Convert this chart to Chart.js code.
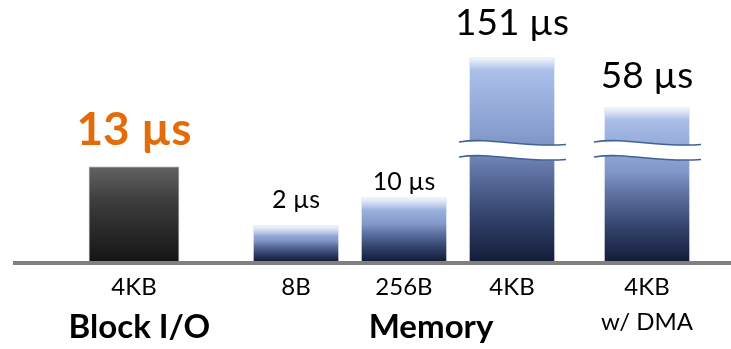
<!DOCTYPE html>
<html>
<head>
<meta charset="utf-8">
<script src="https://cdn.jsdelivr.net/npm/chart.js@4.4.1/dist/chart.umd.min.js"></script>
<style>
  html, body { margin: 0; padding: 0; background: #fff; }
  canvas { display: block; }
</style>
</head>
<body>
<canvas id="c" width="731" height="349"></canvas>
<script>
// Access latency by transfer size, in microseconds
const categories = ['4KB', '8B', '256B', '4KB', '4KB'];
const categoryNotes = ['', '', '', '', 'w/ DMA'];
const groups = ['Block I/O', 'Memory', 'Memory', 'Memory', 'Memory'];
const latencyUs = [13, 2, 10, 151, 58];
const unit = 'µs';

// Layout: bars sit on a 20-slot category axis
const SLOTS = 20;
const barSlot = [0, 6, 10, 14, 19];
const groupLabelSlot = { 'Block I/O': 0.2, 'Memory': 11 };

// Value label styling
const labelSize = [46, 25, 25, 37, 37];
const labelBold = [true, false, false, false, false];
const labelColor = ['#E36C0A', '#000', '#000', '#000', '#000'];
const labelLift = [22, 18, 8, 23, 20];

// Memory axis: compressed power scale below the break, log scale above it
const MEM_AXIS = { breakAt: 35, lowK: 27.2, lowExp: 0.365, gap: 27, decadePx: 120.3 };

class BrokenScale extends Chart.LinearScale {
  static id = 'broken';
  _h(v) {
    const o = MEM_AXIS;
    if (!(v > 0)) return 0;
    const low = o.lowK * Math.pow(Math.min(v, o.breakAt), o.lowExp);
    if (v <= o.breakAt) return low;
    return low + o.gap + o.decadePx * Math.log10(v / o.breakAt);
  }
  getPixelForValue(v) { return this.bottom - this._h(v); }
  getValueForPixel(p) {
    const o = MEM_AXIS;
    const h = this.bottom - p;
    const hb = o.lowK * Math.pow(o.breakAt, o.lowExp);
    if (h <= hb) return Math.pow(Math.max(h, 0) / o.lowK, 1 / o.lowExp);
    if (h <= hb + o.gap) return o.breakAt;
    return o.breakAt * Math.pow(10, (h - hb - o.gap) / o.decadePx);
  }
}
Chart.register(BrokenScale);

// Category labels per slot
const slotLabels = Array.from({ length: SLOTS }, (_, s) => {
  const i = barSlot.indexOf(s);
  if (i < 0) return '';
  return categoryNotes[i] ? [categories[i], categoryNotes[i]] : categories[i];
});

function seriesFor(group) {
  const arr = Array(SLOTS).fill(null);
  latencyUs.forEach((v, i) => { if (groups[i] === group) arr[barSlot[i]] = v; });
  return arr;
}

const BLOCK_STOPS = [[0, '#626262'], [0.35, '#3e3e3e'], [1, '#151515']];
const MEM_STOPS = [[0, '#b3c6ec'], [0.1, '#a6bbe6'], [0.42, '#8197c8'], [0.55, '#6174a4'], [0.78, '#33436d'], [1, '#141d38']];

function gradientFill(stops) {
  return (ctx) => {
    const chart = ctx.chart;
    if (!chart.chartArea || ctx.raw == null) return 'rgba(0,0,0,0)';
    const ys = chart.scales[ctx.dataset.yAxisID];
    const top = ys.getPixelForValue(ctx.raw);
    const base = ys.getBasePixel();
    const g = chart.ctx.createLinearGradient(0, top, 0, base);
    stops.forEach(([o, c]) => g.addColorStop(o, c));
    return g;
  };
}

const FONT = 'Lato, "Open Sans", sans-serif';

const decor = {
  id: 'decor',
  afterDatasetsDraw(chart) {
    const c = chart.ctx;
    const area = chart.chartArea;
    const memMeta = chart.getDatasetMeta(1);
    const memScale = chart.scales.yMem;

    // soft highlight along the top of each memory bar
    memMeta.data.forEach((bar, s) => {
      if (chart.data.datasets[1].data[s] == null) return;
      const h = bar.base - bar.y;
      const d = Math.min(12, h * 0.3);
      const g = c.createLinearGradient(0, bar.y, 0, bar.y + d);
      g.addColorStop(0, 'rgba(255,255,255,0.8)');
      g.addColorStop(1, 'rgba(255,255,255,0)');
      c.fillStyle = g;
      c.fillRect(bar.x - bar.width / 2, bar.y, bar.width, d);
    });

    // axis break on bars that cross it
    const yBreak = memScale.getPixelForValue(MEM_AXIS.breakAt);
    memMeta.data.forEach((bar, s) => {
      const v = chart.data.datasets[1].data[s];
      if (v == null || v <= MEM_AXIS.breakAt) return;
      const x0 = bar.x - bar.width / 2 - 11;
      const x1 = bar.x + bar.width / 2 + 12;
      const W = x1 - x0;
      const yLo = yBreak - 4.5;
      const yHi = yLo - 15;
      const wave = (y, fwd) => {
        if (fwd) {
          c.bezierCurveTo(x0 + 0.3 * W, y - 5, x0 + 0.6 * W, y + 6, x1, y + 2.5);
        } else {
          c.bezierCurveTo(x0 + 0.6 * W, y + 6, x0 + 0.3 * W, y - 5, x0, y);
        }
      };
      c.beginPath();
      c.moveTo(x0, yHi);
      wave(yHi, true);
      c.lineTo(x1, yLo + 2.5);
      wave(yLo, false);
      c.closePath();
      c.fillStyle = '#fff';
      c.fill();
      c.strokeStyle = '#40629a';
      c.lineWidth = 1.6;
      [yHi, yLo].forEach(y => {
        c.beginPath();
        c.moveTo(x0, y);
        wave(y, true);
        c.stroke();
      });
    });

    // baseline
    c.fillStyle = '#808080';
    c.fillRect(13, area.bottom, chart.width - 13, 4);

    // value labels
    c.textAlign = 'center';
    c.textBaseline = 'alphabetic';
    latencyUs.forEach((v, i) => {
      const dsIndex = groups[i] === 'Block I/O' ? 0 : 1;
      const bar = chart.getDatasetMeta(dsIndex).data[barSlot[i]];
      c.font = (labelBold[i] ? 'bold ' : '') + labelSize[i] + 'px ' + FONT;
      c.fillStyle = labelColor[i];
      c.fillText(v + ' ' + unit, bar.x, bar.y - labelLift[i]);
    });

    // group labels under the categories
    c.font = 'bold 33px ' + FONT;
    c.fillStyle = '#000';
    c.textBaseline = 'middle';
    Object.entries(groupLabelSlot).forEach(([name, slot]) => {
      c.fillText(name, chart.scales.x.getPixelForValue(slot), 327);
    });
  }
};

new Chart(document.getElementById('c'), {
  type: 'bar',
  data: {
    labels: slotLabels,
    datasets: [
      {
        label: 'Block I/O',
        data: seriesFor('Block I/O'),
        yAxisID: 'yBlock',
        backgroundColor: gradientFill(BLOCK_STOPS),
        borderColor: '#a8a8a8',
        borderWidth: { top: 1, left: 1, right: 1, bottom: 0 },
        borderSkipped: 'bottom',
        barThickness: 90,
        grouped: false,
        clip: false
      },
      {
        label: 'Memory',
        data: seriesFor('Memory'),
        yAxisID: 'yMem',
        backgroundColor: gradientFill(MEM_STOPS),
        borderWidth: 0,
        barThickness: 84,
        grouped: false,
        clip: false
      }
    ]
  },
  options: {
    responsive: false,
    animation: false,
    devicePixelRatio: 1,
    layout: { padding: { left: 120.5, right: 70.5, top: 0, bottom: 0 } },
    plugins: { legend: { display: false }, tooltip: { enabled: false } },
    scales: {
      x: {
        grid: { display: false, drawTicks: false },
        border: { display: false },
        ticks: {
          autoSkip: false,
          maxRotation: 0,
          padding: 9,
          color: '#000',
          font: { family: FONT, size: 24, lineHeight: 1.45 }
        },
        afterFit: (s) => { s.height = 88; }
      },
      yBlock: { type: 'linear', display: false, min: 0, max: 36 },
      yMem: { type: 'broken', display: false, min: 0, max: 400 }
    }
  },
  plugins: [decor]
});
</script>
</body>
</html>
